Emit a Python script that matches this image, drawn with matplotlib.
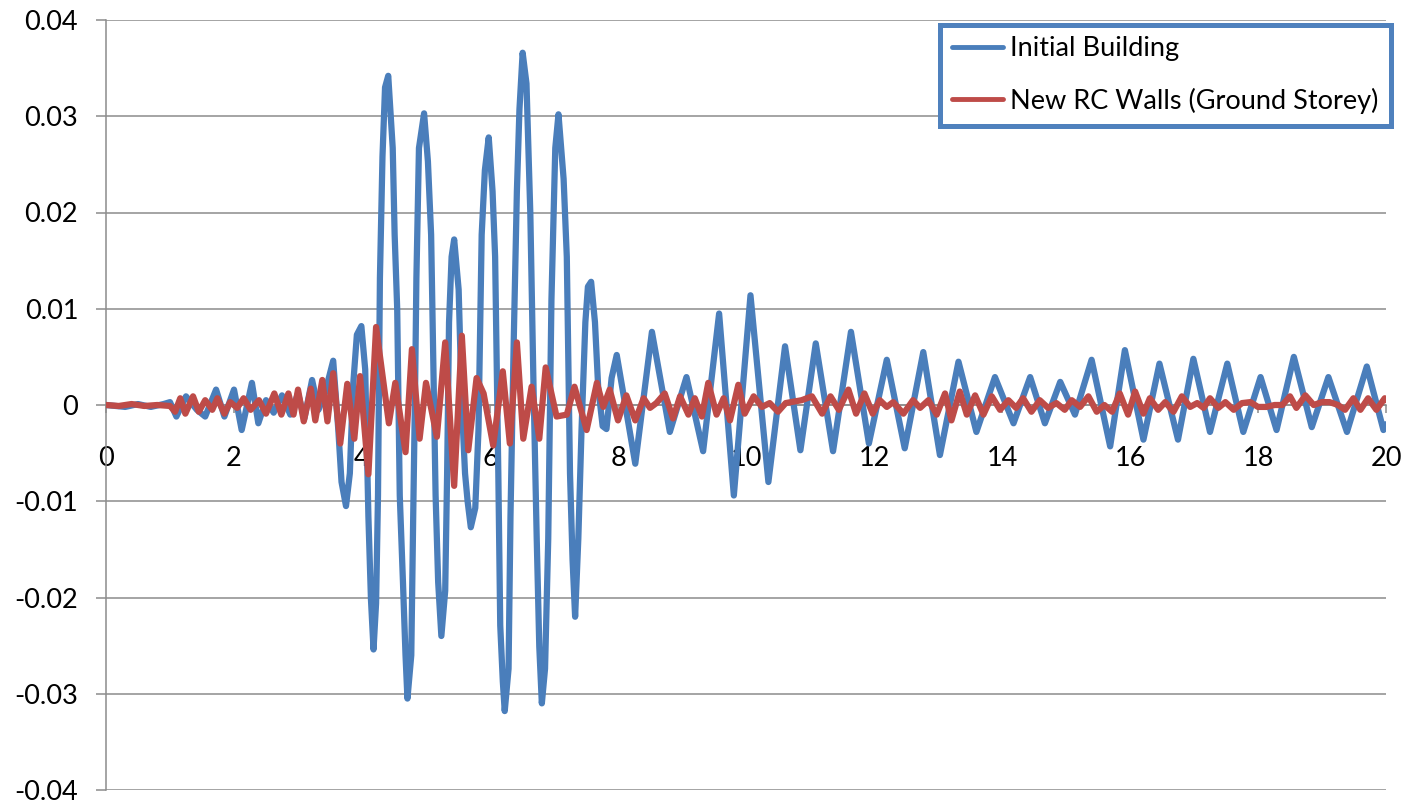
import matplotlib
matplotlib.use('Agg')
import matplotlib.pyplot as plt

# time (s) and response values
blue_t = [0, 0.3, 0.5, 0.7, 0.9, 1.0, 1.1, 1.25, 1.42, 1.55, 1.72, 1.85, 2.0, 2.12,
          2.28, 2.38, 2.5, 2.62, 2.75, 2.88, 3.0, 3.1, 3.22, 3.32, 3.42,
          3.55, 3.63, 3.68, 3.75, 3.81, 3.86, 3.92, 3.99, 4.05, 4.10, 4.14, 4.18,
          4.22, 4.25, 4.28, 4.32, 4.36, 4.41, 4.48, 4.51, 4.55, 4.59, 4.64, 4.68,
          4.71, 4.77, 4.80, 4.83, 4.85, 4.89, 4.97, 5.03, 5.08, 5.15, 5.19, 5.24,
          5.30, 5.33, 5.36, 5.40, 5.44, 5.51, 5.56, 5.61, 5.65, 5.70, 5.77, 5.82,
          5.87, 5.92, 5.98, 6.04, 6.08, 6.13, 6.16, 6.20, 6.23, 6.29, 6.32, 6.37,
          6.42, 6.46, 6.51, 6.57, 6.63, 6.68, 6.73, 6.77, 6.81, 6.86, 6.91, 6.96,
          7.02, 7.07, 7.15, 7.20, 7.25, 7.29, 7.33, 7.38, 7.43, 7.49, 7.53, 7.58,
          7.64, 7.69, 7.76, 7.82, 7.90, 7.98,
          8.27, 8.53, 8.81, 9.07, 9.33, 9.58, 9.81,
          10.07, 10.35, 10.61, 10.85, 11.09, 11.36, 11.64, 11.92, 12.2, 12.48,
          12.77, 13.03, 13.32, 13.6, 13.89, 14.18, 14.44, 14.67, 14.91, 15.14,
          15.4, 15.69, 15.92, 16.21, 16.46, 16.75, 16.99, 17.25, 17.52, 17.77,
          18.04, 18.29, 18.56, 18.84, 19.1, 19.39, 19.70, 19.96, 20.0]
blue_v = [0, -0.0002, 0.0001, -0.0002, 0.0001, 0.0003, -0.0012, 0.0009, -0.0005,
          -0.0012, 0.0016, -0.0012, 0.0016, -0.0026, 0.0023, -0.0019, 0.0005,
          -0.0008, 0.0010, -0.0010, 0.0012, -0.0014, 0.0026, -0.0005, 0.0012,
          0.0046, -0.0026, -0.0080, -0.0105, -0.0071, 0.0019, 0.0073, 0.0082,
          0.0037, -0.0116, -0.0202, -0.0254, -0.0206, -0.0094, 0.0132, 0.0258,
          0.0330, 0.0342, 0.0267, 0.0177, 0.0100, -0.0094, -0.0184, -0.0260,
          -0.0305, -0.0260, -0.0116, 0.0019, 0.0132, 0.0267, 0.0303, 0.0253,
          0.0177, -0.0094, -0.0184, -0.0240, -0.0193, -0.0071, 0.0086, 0.0154,
          0.0172, 0.0120, 0.0000, -0.0071, -0.0100, -0.0127, -0.0107, -0.0026,
          0.0177, 0.0244, 0.0278, 0.0222, 0.0154, -0.0071, -0.0229, -0.0287,
          -0.0318, -0.0274, -0.0116, 0.0064, 0.0222, 0.0307, 0.0366, 0.0334,
          0.0199, 0.0019, -0.0139, -0.0251, -0.0310, -0.0274, -0.0139, 0.0109,
          0.0267, 0.0302, 0.0235, 0.0154, -0.0071, -0.0161, -0.0220, -0.0139,
          -0.0026, 0.0086, 0.0123, 0.0128, 0.0086, 0.0019, -0.0022, -0.0025,
          0.0028, 0.0052,
          -0.0061, 0.0076, -0.0028, 0.0029, -0.0048, 0.0095, -0.0094,
          0.0114, -0.0080, 0.0061, -0.0047, 0.0064, -0.0048,
          0.0076, -0.0040, 0.0047, -0.0045, 0.0055, -0.0052, 0.0045, -0.0028,
          0.0029, -0.0019, 0.0029, -0.0019, 0.0024, -0.0010, 0.0047, -0.0043,
          0.0057, -0.0036, 0.0043, -0.0036, 0.0048, -0.0028, 0.0043, -0.0028,
          0.0029, -0.0026, 0.0050, -0.0023, 0.0029, -0.0028, 0.0040, -0.0026,
          -0.0020]

red_t = [0, 0.2, 0.4, 0.6, 0.8, 1.0, 1.08, 1.16, 1.24, 1.36, 1.45, 1.55, 1.66,
         1.74, 1.85, 1.94, 2.05, 2.15, 2.26, 2.39, 2.5, 2.63, 2.74, 2.85, 2.93,
         3.0, 3.09, 3.2, 3.27, 3.38, 3.46, 3.55, 3.66, 3.77, 3.88, 3.97, 4.10,
         4.22, 4.42, 4.52, 4.68, 4.78, 4.90, 5.00, 5.17, 5.30, 5.44, 5.56, 5.66,
         5.79, 5.90, 6.05, 6.20, 6.31, 6.42, 6.52, 6.65, 6.77, 6.87, 7.04, 7.20,
         7.32, 7.51, 7.67, 7.77, 7.87, 8.0, 8.13, 8.27, 8.4, 8.5, 8.6, 8.73,
         8.86, 8.97, 9.1, 9.2, 9.31, 9.41, 9.54, 9.65, 9.75, 9.88, 9.98, 10.12,
         10.25, 10.37, 10.5, 10.62, 10.87, 11.03, 11.19, 11.32, 11.45, 11.6,
         11.72, 11.85, 11.98, 12.09, 12.2, 12.3, 12.46, 12.61, 12.72, 12.85,
         12.98, 13.11, 13.21, 13.34, 13.45, 13.58, 13.71, 13.84, 13.97, 14.1,
         14.22, 14.33, 14.46, 14.59, 14.72, 14.85, 14.98, 15.09, 15.22, 15.35,
         15.48, 15.6, 15.72, 15.84, 15.97, 16.08, 16.21, 16.31, 16.44, 16.55,
         16.68, 16.81, 16.94, 17.05, 17.15, 17.25, 17.38, 17.49, 17.62, 17.75,
         17.88, 18.0, 18.13, 18.26, 18.38, 18.5, 18.6, 18.74, 18.87, 19.0,
         19.12, 19.25, 19.36, 19.49, 19.6, 19.72, 19.85, 19.98, 20.0]
red_v = [0, -0.0001, 0.0001, -0.0001, 0.0, -0.0001, -0.0007, 0.0007, -0.0009,
         0.0009, -0.0007, 0.0005, -0.0005, 0.0007, -0.0009, 0.0003, -0.0003,
         0.0007, -0.0005, 0.0005, -0.0009, 0.0012, -0.0010, 0.0012, -0.0010,
         0.0016, -0.0017, 0.0017, -0.0016, 0.0026, -0.0017, 0.0033, -0.0040,
         0.0022, -0.0035, 0.0030, -0.0072, 0.0081, -0.0019, 0.0023, -0.0049,
         0.0058, -0.0035, 0.0023, -0.0033, 0.0065, -0.0084, 0.0072, -0.0047,
         0.0028, 0.0012, -0.0042, 0.0035, -0.0040, 0.0065, -0.0035, 0.0019,
         -0.0035, 0.0039, -0.0012, -0.0010, 0.0019, -0.0026, 0.0023, -0.0002,
         0.0016, -0.0016, 0.0010, -0.0016, 0.0007, -0.0003, 0.0002, 0.0012,
         -0.0014, 0.0009, -0.0010, 0.0007, -0.0012, 0.0023, -0.0010, 0.0007,
         -0.0016, 0.0021, -0.0009, 0.0009, -0.0002, 0.0002, -0.0007, 0.0002,
         0.0005, 0.0009, -0.0009, 0.0009, -0.0005, 0.0016, -0.0009, 0.0012,
         -0.0009, 0.0005, -0.0002, 0.0003, -0.0009, 0.0005, -0.0003, 0.0005,
         -0.0010, 0.0012, -0.0016, 0.0014, -0.0010, 0.0010, -0.0010, 0.0009,
         -0.0005, 0.0005, -0.0003, 0.0007, -0.0007, 0.0005, -0.0003, 0.0002,
         -0.0005, 0.0005, -0.0002, 0.0009, -0.0007, 0.0000, -0.0007, 0.0012,
         -0.0010, 0.0014, -0.0009, 0.0007, -0.0005, 0.0003, -0.0007, 0.0009,
         -0.0002, 0.0002, -0.0003, 0.0007, -0.0003, 0.0003, -0.0005, 0.0002,
         0.0003, -0.0002, -0.0002, 0.0000, 0.0000, 0.0009, -0.0003, 0.0010,
         0.0000, 0.0003, 0.0003, 0.0000, -0.0005, 0.0007, -0.0005, 0.0007,
         -0.0005, 0.0007, 0.0005]

series_labels = ['Initial Building', 'New RC Walls (Ground Storey)']
x_ticks = list(range(0, 21, 2))
y_ticks = [-0.04, -0.03, -0.02, -0.01, 0, 0.01, 0.02, 0.03, 0.04]
y_ticklabels = ['-0.04', '-0.03', '-0.02', '-0.01', '0', '0.01', '0.02', '0.03', '0.04']

assert len(blue_t) == len(blue_v) and len(red_t) == len(red_v)

plt.rcParams['font.family'] = ['Lato', 'DejaVu Sans']
grey = '#8c8c8c'

fig = plt.figure(figsize=(14.08, 8.01), dpi=100, facecolor='white')
ax = fig.add_axes([106 / 1408, 1 - 790 / 801, 1280 / 1408, 770 / 801])

ax.plot(blue_t, blue_v, color='#4a7ebb', lw=4.5, solid_joinstyle='round',
        solid_capstyle='round', label=series_labels[0], zorder=3)
ax.plot(red_t, red_v, color='#be4b48', lw=4.5, solid_joinstyle='round',
        solid_capstyle='round', label=series_labels[1], zorder=4)

ax.set_xlim(0, 20)
ax.set_ylim(-0.04, 0.04)
ax.set_xticks(x_ticks)
ax.set_yticks(y_ticks)
ax.set_yticklabels(y_ticklabels)
ax.yaxis.grid(True, color=grey, lw=1.1)
ax.set_axisbelow(True)

for s in ['top', 'right']:
    ax.spines[s].set_visible(False)
ax.spines['bottom'].set_position(('data', 0))
ax.spines['bottom'].set_color(grey)
ax.spines['left'].set_color(grey)
ax.spines['bottom'].set_linewidth(1.1)
ax.spines['left'].set_linewidth(1.1)

ax.tick_params(axis='x', direction='out', length=5.5, width=1.1, color=grey,
               pad=24, labelsize=19.5)
ax.tick_params(axis='y', direction='out', length=7, width=1.1, color=grey,
               pad=13, labelsize=19.5)

leg = ax.legend(loc='upper right', bbox_to_anchor=(1390.5 / 1408, 1 - 24.5 / 801),
                bbox_transform=fig.transFigure, borderaxespad=0, fontsize=19.5,
                fancybox=False, framealpha=1, handlelength=1.9,
                handletextpad=0.25, labelspacing=0.97, borderpad=0.44)
leg.get_frame().set_edgecolor('#4f81bd')
leg.get_frame().set_linewidth(3.6)
for line in leg.get_lines():
    line.set_linewidth(3.5)
leg.set_zorder(5)

fig.savefig('out.png', dpi=100, facecolor='white')
